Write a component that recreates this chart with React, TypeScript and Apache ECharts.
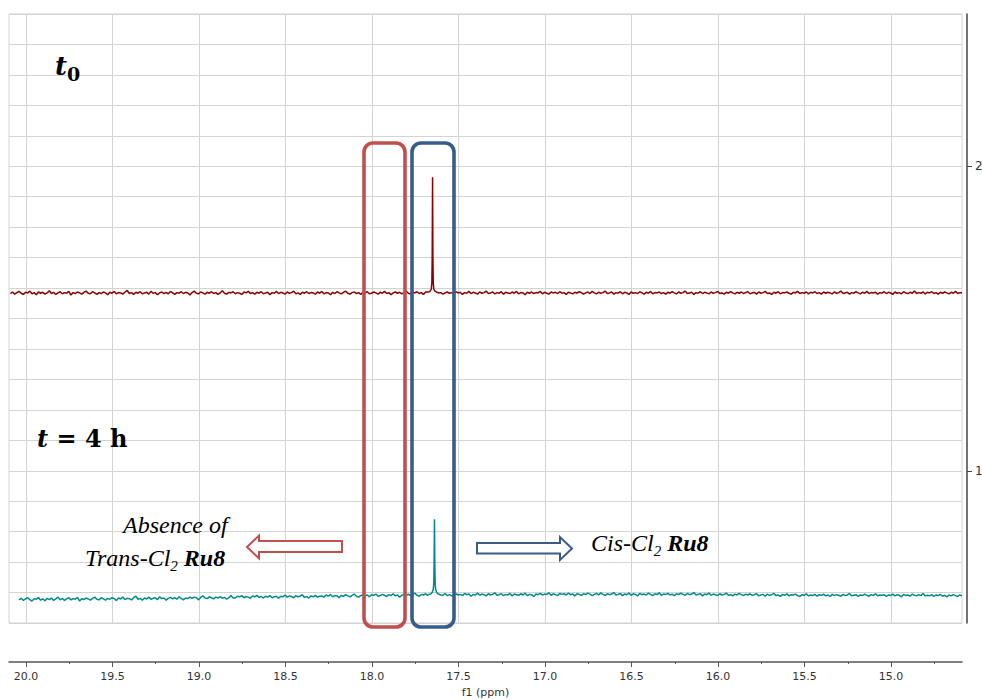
import React, { useEffect, useRef } from "react";
import * as echarts from "echarts";

// ---- Data ----
// Spectrum t0 (top trace): uniformly sampled, start ppm and step
const TOP_START_PPM = 20.09;
const TOP_STEP_PPM = 0.0125;
const TOP_VALUES = [
  1.582,1.587,1.580,1.585,1.589,1.583,1.579,1.586,1.584,1.590,1.581,1.585,1.578,1.587,1.583,1.586,1.580,1.584,1.591,1.582,
  1.586,1.579,1.584,1.588,1.581,1.585,1.583,1.589,1.577,1.585,1.582,1.587,1.584,1.580,1.586,1.590,1.583,1.581,1.588,1.584,
  1.579,1.585,1.582,1.587,1.584,1.578,1.586,1.583,1.589,1.581,1.585,1.584,1.580,1.587,1.592,1.582,1.585,1.579,1.586,1.583,
  1.588,1.581,1.584,1.586,1.580,1.589,1.583,1.585,1.578,1.584,1.587,1.582,1.586,1.581,1.589,1.584,1.579,1.585,1.583,1.588,
  1.582,1.586,1.584,1.577,1.585,1.590,1.583,1.581,1.587,1.584,1.580,1.586,1.583,1.588,1.582,1.585,1.579,1.584,1.591,1.583,
  1.580,1.586,1.584,1.588,1.581,1.585,1.583,1.579,1.587,1.584,1.589,1.582,1.585,1.580,1.586,1.583,1.588,1.581,1.584,1.586,
  1.578,1.585,1.583,1.589,1.582,1.586,1.584,1.580,1.587,1.583,1.585,1.590,1.581,1.584,1.579,1.586,1.583,1.588,1.582,1.585,
  1.584,1.580,1.587,1.583,1.589,1.581,1.585,1.584,1.578,1.586,1.582,1.588,1.584,1.581,1.586,1.590,1.583,1.580,1.585,1.587,
  1.582,1.585,1.579,1.586,1.584,1.588,1.581,1.583,1.587,1.584,1.580,1.586,1.583,1.589,1.582,1.585,1.578,1.584,1.587,1.583,
  1.586,1.581,1.585,1.590,1.583,1.580,1.586,1.584,1.588,1.582,1.585,1.579,1.587,1.584,1.581,1.586,1.583,1.589,1.582,1.585,
  1.580,1.584,1.587,1.583,1.585,1.581,1.588,1.584,1.586,1.579,1.585,1.583,1.589,1.582,1.586,1.584,1.580,1.587,1.583,1.585,
  1.590,1.582,1.584,1.587,1.581,1.585,1.583,1.588,1.580,1.586,1.584,1.582,1.587,1.583,1.589,1.581,1.585,1.584,1.578,1.586,
  1.583,1.587,1.582,1.585,1.584,1.589,1.581,1.586,1.583,1.580,1.587,1.584,1.586,1.582,1.588,1.583,1.585,1.579,1.586,1.584,
  1.581,1.586,1.583,1.588,1.585,1.580,1.584,1.587,1.582,1.589,1.584,1.581,1.586,1.583,1.585,1.590,1.582,1.584,1.587,1.580,
  1.585,1.583,1.588,1.581,1.586,1.584,1.579,1.587,1.583,1.585,1.582,1.588,1.584,1.580,1.586,1.583,1.589,1.581,1.585,1.584,
  1.587,1.582,1.585,1.580,1.586,1.583,1.588,1.584,1.581,1.587,1.583,1.585,1.590,1.582,1.584,1.586,1.579,1.585,1.583,1.588,
  1.582,1.586,1.584,1.581,1.587,1.583,1.585,1.589,1.582,1.584,1.580,1.586,1.583,1.588,1.584,1.581,1.586,1.583,1.587,1.582,
  1.585,1.588,1.581,1.584,1.586,1.580,1.587,1.583,1.585,1.589,1.582,1.584,1.579,1.586,1.583,1.588,1.581,1.585,1.584,1.587,
  1.583,1.580,1.586,1.584,1.589,1.582,1.585,1.583,1.587,1.581,1.586,1.584,1.588,1.582,1.585,1.580,1.587,1.583,1.586,1.584,
  1.581,1.587,1.583,1.585,1.590,1.582,1.584,1.586,1.580,1.585,1.583,1.588,1.584,1.581,1.586,1.583,1.589,1.582,1.585,1.584,
  1.586,1.580,1.585,1.583,1.588,1.582,1.586,1.584,1.579,1.587,1.583,1.585,1.581,1.588,1.584,1.582,1.586,1.583,1.590,1.582,
  1.585,1.583,1.587,1.581,1.586,1.584,1.588,1.582,1.585,1.580,1.586,1.583,1.587,1.584,1.581,1.586,1.583,1.589,1.582,1.585,
  1.584,
];
const TOP_PEAK_PPM = [17.688, 17.672, 17.662, 17.657, 17.654, 17.652, 17.650, 17.648, 17.646, 17.643, 17.638, 17.628, 17.613];
const TOP_PEAK_VAL = [1.585, 1.587, 1.591, 1.598, 1.618, 1.700, 1.964, 1.700, 1.618, 1.598, 1.591, 1.587, 1.584];

// Spectrum t = 4 h (bottom trace)
const BOT_START_PPM = 20.04;
const BOT_STEP_PPM = 0.0125;
const BOT_VALUES = [
  0.576,0.581,0.574,0.579,0.583,0.577,0.572,0.580,0.578,0.584,0.575,0.579,0.573,0.581,0.577,0.582,0.574,0.579,0.585,0.576,
  0.581,0.574,0.579,0.583,0.576,0.580,0.578,0.584,0.572,0.580,0.577,0.582,0.579,0.575,0.581,0.585,0.578,0.576,0.583,0.579,
  0.575,0.581,0.578,0.583,0.580,0.574,0.582,0.579,0.585,0.577,0.581,0.580,0.576,0.583,0.588,0.578,0.581,0.575,0.582,0.579,
  0.585,0.578,0.581,0.583,0.577,0.586,0.580,0.582,0.575,0.581,0.584,0.579,0.583,0.578,0.586,0.581,0.576,0.582,0.580,0.585,
  0.581,0.585,0.583,0.576,0.584,0.589,0.582,0.580,0.586,0.583,0.579,0.585,0.582,0.587,0.581,0.584,0.578,0.583,0.590,0.582,
  0.582,0.588,0.586,0.590,0.583,0.587,0.585,0.581,0.589,0.586,0.591,0.584,0.587,0.582,0.588,0.585,0.590,0.583,0.586,0.588,
  0.581,0.588,0.586,0.592,0.585,0.589,0.587,0.583,0.590,0.586,0.588,0.593,0.584,0.587,0.582,0.589,0.586,0.591,0.585,0.588,
  0.589,0.585,0.592,0.588,0.594,0.586,0.590,0.589,0.583,0.591,0.587,0.593,0.589,0.586,0.591,0.595,0.588,0.585,0.590,0.592,
  0.589,0.592,0.586,0.593,0.591,0.595,0.588,0.590,0.594,0.591,0.587,0.593,0.590,0.596,0.589,0.592,0.585,0.591,0.594,0.590,
  0.595,0.590,0.594,0.598,0.591,0.588,0.594,0.592,0.596,0.590,0.593,0.592,0.592,0.593,0.592,0.593,0.591,0.597,0.590,0.593,
  0.589,0.593,0.596,0.592,0.594,0.590,0.597,0.593,0.595,0.588,0.594,0.592,0.598,0.591,0.595,0.593,0.589,0.596,0.592,0.594,
  0.599,0.591,0.593,0.596,0.590,0.594,0.592,0.597,0.589,0.595,0.593,0.591,0.596,0.592,0.598,0.590,0.594,0.593,0.587,0.595,
  0.593,0.597,0.592,0.595,0.594,0.599,0.591,0.596,0.593,0.590,0.597,0.594,0.596,0.592,0.598,0.593,0.595,0.589,0.596,0.594,
  0.591,0.596,0.593,0.598,0.595,0.590,0.594,0.597,0.592,0.599,0.594,0.591,0.596,0.593,0.595,0.600,0.592,0.594,0.597,0.590,
  0.595,0.593,0.598,0.591,0.596,0.594,0.589,0.597,0.593,0.595,0.592,0.598,0.594,0.590,0.596,0.593,0.599,0.591,0.595,0.594,
  0.597,0.592,0.595,0.590,0.596,0.593,0.598,0.594,0.591,0.597,0.593,0.595,0.600,0.592,0.594,0.596,0.589,0.595,0.593,0.598,
  0.591,0.595,0.593,0.590,0.596,0.592,0.594,0.598,0.591,0.593,0.589,0.595,0.592,0.597,0.593,0.590,0.595,0.592,0.596,0.591,
  0.593,0.596,0.589,0.592,0.594,0.588,0.595,0.591,0.593,0.597,0.590,0.592,0.587,0.594,0.591,0.596,0.589,0.593,0.592,0.595,
  0.590,0.587,0.593,0.591,0.596,0.589,0.592,0.590,0.594,0.588,0.593,0.591,0.595,0.589,0.592,0.587,0.594,0.590,0.593,0.591,
  0.588,0.594,0.590,0.592,0.597,0.589,0.591,0.593,0.587,0.592,0.590,0.595,0.591,0.588,0.593,0.590,0.596,0.589,0.592,0.591,
  0.593,0.587,0.592,0.590,0.595,0.589,0.593,0.591,0.586,0.594,0.590,0.592,0.588,0.595,0.591,0.589,0.593,0.590,0.597,0.589,
  0.591,0.589,0.593,0.587,0.592,0.590,0.594,0.588,0.591,0.586,0.592,0.589,0.593,0.590,0.587,0.592,0.589,
];
const BOT_PEAK_PPM = [17.676, 17.662, 17.652, 17.646, 17.643, 17.641, 17.639, 17.637, 17.635, 17.632, 17.626, 17.616, 17.602];
const BOT_PEAK_VAL = [0.593, 0.595, 0.600, 0.610, 0.630, 0.700, 0.841, 0.700, 0.630, 0.610, 0.600, 0.595, 0.592];

// Axis ticks
const X_MAJOR_TICKS = [20.0, 19.5, 19.0, 18.5, 18.0, 17.5, 17.0, 16.5, 16.0, 15.5, 15.0];
const X_MINOR_TICKS = [19.75, 19.25, 18.75, 18.25, 17.75, 17.25, 16.75, 16.25, 15.75, 15.25, 14.75];
const Y_RIGHT_TICKS = [1, 2];
const X_MIN = 14.59;
const X_MAX = 20.098;
const Y_MIN = 0.5;
const Y_MAX = 2.5;

function buildTrace(start: number, step: number, vals: number[], peakPpm: number[], peakVal: number[]) {
  const lo = Math.min(...peakPpm);
  const hi = Math.max(...peakPpm);
  const pts: number[][] = [];
  vals.forEach((v, i) => {
    const x = +(start - i * step).toFixed(4);
    if (x >= lo && x <= hi) return;
    pts.push([x, v]);
  });
  peakPpm.forEach((x, i) => pts.push([x, peakVal[i]]));
  pts.sort((a, b) => b[0] - a[0]);
  return pts;
}

const GRID_COLOR = "#d3d3d3";
const RED = "#C0504D";
const BLUE = "#385D8A";
const SERIF_IT = "'Liberation Serif', serif";
const SERIF_B = "'DejaVu Serif', serif";
const SANS = "'DejaVu Sans', Verdana, sans-serif";

export default function App() {
  const ref = useRef<HTMLDivElement>(null);
  useEffect(() => {
    if (!ref.current) return;
    const chart = echarts.init(ref.current, null, { renderer: "svg" });
    const topData = buildTrace(TOP_START_PPM, TOP_STEP_PPM, TOP_VALUES, TOP_PEAK_PPM, TOP_PEAK_VAL);
    const botData = buildTrace(BOT_START_PPM, BOT_STEP_PPM, BOT_VALUES, BOT_PEAK_PPM, BOT_PEAK_VAL);

    const italicTok = { fontFamily: SERIF_IT, fontSize: 24, fontStyle: "italic", fill: "#000", lineHeight: 30, verticalAlign: "middle" };
    const subTok = { fontFamily: SERIF_IT, fontSize: 15, fontStyle: "italic", fill: "#000", lineHeight: 20, verticalAlign: "bottom" };
    const boldTok = { fontFamily: SERIF_IT, fontSize: 24, fontStyle: "italic", fontWeight: "bold", fill: "#000", lineHeight: 30, verticalAlign: "middle" };

    chart.setOption({
      animation: false,
      backgroundColor: "#fff",
      grid: {
        left: 9, right: 20, top: 14, bottom: 77,
        outerBoundsMode: "none", containLabel: false,
        show: true, borderColor: GRID_COLOR, borderWidth: 1, backgroundColor: "#fff",
      },
      xAxis: [
        {
          type: "value", inverse: true, min: X_MIN, max: X_MAX, position: "bottom",
          axisLine: { show: false },
          axisTick: { show: false, customValues: X_MAJOR_TICKS },
          axisLabel: { show: false },
          splitLine: { show: true, lineStyle: { color: GRID_COLOR, width: 1 } },
        },
        {
          type: "value", inverse: true, min: X_MIN, max: X_MAX, position: "bottom", offset: 39,
          axisLine: { show: true, lineStyle: { color: "#555", width: 1.5 } },
          axisTick: { show: true, length: 5, customValues: X_MAJOR_TICKS, lineStyle: { color: "#555" } },
          axisLabel: {
            show: true, customValues: X_MAJOR_TICKS, margin: 9,
            formatter: (v: number) => v.toFixed(1),
            color: "#333", fontFamily: SANS, fontSize: 11,
          },
          splitLine: { show: false },
          name: "f1 (ppm)", nameLocation: "middle", nameGap: 23,
          nameTextStyle: { color: "#333", fontFamily: SANS, fontSize: 11 },
        },
        {
          type: "value", inverse: true, min: X_MIN, max: X_MAX, position: "bottom", offset: 39,
          axisLine: { show: false },
          axisTick: { show: true, length: 2, customValues: X_MINOR_TICKS, lineStyle: { color: "#555" } },
          axisLabel: { show: false },
          splitLine: { show: false },
        },
      ],
      yAxis: [
        {
          type: "value", min: Y_MIN, max: Y_MAX, interval: 0.1, position: "left",
          axisLine: { show: false }, axisTick: { show: false }, axisLabel: { show: false },
          splitLine: { show: true, lineStyle: { color: GRID_COLOR, width: 1 } },
        },
        {
          type: "value", min: Y_MIN, max: Y_MAX, position: "right", offset: 5,
          axisLine: { show: true, lineStyle: { color: "#444", width: 1.5 } },
          axisTick: { show: true, length: 5, customValues: Y_RIGHT_TICKS, lineStyle: { color: "#444", width: 1 } },
          axisLabel: {
            show: true, customValues: Y_RIGHT_TICKS, margin: 8,
            color: "#333", fontFamily: SANS, fontSize: 12,
          },
          splitLine: { show: false },
        },
      ],
      series: [
        {
          type: "line", name: "t0", xAxisIndex: 0, yAxisIndex: 0, data: topData,
          showSymbol: false, symbol: "none",
          lineStyle: { color: "#8B0000", width: 1.5 }, itemStyle: { color: "#8B0000" },
          silent: true,
        },
        {
          type: "line", name: "t = 4 h", xAxisIndex: 0, yAxisIndex: 0, data: botData,
          showSymbol: false, symbol: "none",
          lineStyle: { color: "#008B8B", width: 1.5 }, itemStyle: { color: "#008B8B" },
          silent: true,
        },
      ],
      graphic: [
        {
          type: "rect", z: 100, silent: true,
          shape: { x: 364, y: 143, width: 41, height: 484, r: 9 },
          style: { fill: "none", stroke: RED, lineWidth: 3.6 },
        },
        {
          type: "rect", z: 100, silent: true,
          shape: { x: 412, y: 143, width: 42, height: 484, r: 9 },
          style: { fill: "none", stroke: BLUE, lineWidth: 3.6 },
        },
        {
          type: "polygon", z: 100, silent: true,
          shape: { points: [[247, 547], [259, 535.5], [259, 541], [342, 541], [342, 552], [259, 552], [259, 558.5]] },
          style: { fill: "#fff", stroke: RED, lineWidth: 2 },
        },
        {
          type: "polygon", z: 100, silent: true,
          shape: { points: [[477, 543], [560, 543], [560, 537], [572, 548.5], [560, 560], [560, 553.5], [477, 553.5]] },
          style: { fill: "#fff", stroke: BLUE, lineWidth: 2 },
        },
        {
          type: "text", z: 100, silent: true, x: 55, y: 66,
          style: {
            text: "{t|t}{s|0}",
            align: "left", textAlign: "left", verticalAlign: "middle", textVerticalAlign: "middle",
            rich: {
              t: { fontFamily: SERIF_B, fontSize: 26, fontWeight: "bold", fontStyle: "italic", fill: "#000", lineHeight: 34, verticalAlign: "middle" },
              s: { fontFamily: SERIF_B, fontSize: 19, fontWeight: "bold", fill: "#000", lineHeight: 33, verticalAlign: "bottom" },
            },
          },
        },
        {
          type: "text", z: 100, silent: true, x: 37, y: 438,
          style: {
            text: "{t|t}{b| = 4 h}",
            align: "left", textAlign: "left", verticalAlign: "middle", textVerticalAlign: "middle",
            rich: {
              t: { fontFamily: SERIF_B, fontSize: 24, fontWeight: "bold", fontStyle: "italic", fill: "#000", lineHeight: 32, verticalAlign: "middle" },
              b: { fontFamily: SERIF_B, fontSize: 24, fontWeight: "bold", fill: "#000", lineHeight: 32, verticalAlign: "middle" },
            },
          },
        },
        {
          type: "text", z: 100, silent: true, x: 123, y: 525,
          style: {
            text: "Absence of",
            align: "left", textAlign: "left", verticalAlign: "middle", textVerticalAlign: "middle",
            font: "italic 24px 'Liberation Serif', serif", fill: "#000",
          },
        },
        {
          type: "text", z: 100, silent: true, x: 85, y: 558,
          style: {
            text: "{i|Trans-Cl}{s|2}{i| }{b|Ru8}",
            align: "left", textAlign: "left", verticalAlign: "middle", textVerticalAlign: "middle",
            rich: { i: italicTok, s: subTok, b: boldTok },
          },
        },
        {
          type: "text", z: 100, silent: true, x: 591, y: 543,
          style: {
            text: "{i|Cis-Cl}{s|2}{i| }{b|Ru8}",
            align: "left", textAlign: "left", verticalAlign: "middle", textVerticalAlign: "middle",
            rich: { i: italicTok, s: subTok, b: boldTok },
          },
        },
      ],
    });
    return () => chart.dispose();
  }, []);
  return (
    <div
      ref={ref}
      style={{ position: "fixed", left: 0, top: 0, width: 982, height: 700, background: "#fff" }}
    />
  );
}
